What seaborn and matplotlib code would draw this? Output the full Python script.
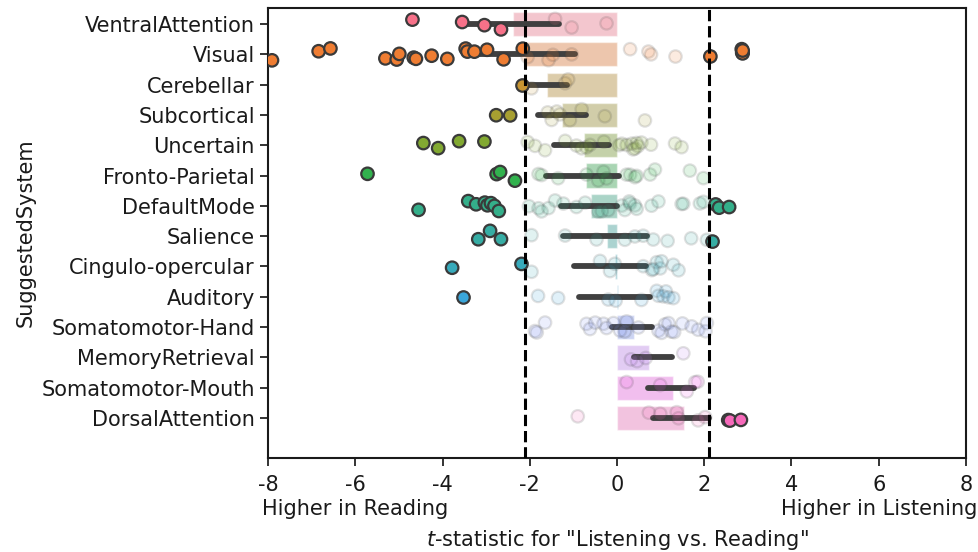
import numpy as np
import pandas as pd
import matplotlib
matplotlib.use("Agg")
import matplotlib.pyplot as plt
import seaborn as sns
from matplotlib.transforms import blended_transform_factory

# t-statistics ("Listening vs. Reading") per region, grouped by suggested system
ventral_attention = [-4.69, -3.55, -3.04, -2.66, -1.42, -1.04, -0.24]
visual = [-7.91, -6.84, -6.57, -5.31, -5.05, -4.99, -4.66, -4.61, -4.25, -3.89,
          -3.47, -3.43, -3.27, -2.98, -2.60, -2.16, 2.14, 2.86, 2.87, 2.88, 2.88,
          -2.05, -1.57, -1.47, -1.04, 0.30, 0.72, 0.78, 1.34]
cerebellar = [-2.17, -1.96, -1.19, -1.12]
subcortical = [-2.77, -2.45, -1.59, -1.50, -1.38, -1.31, -1.08, -0.81, -0.28, 0.64]
uncertain = [-4.44, -4.10, -3.62, -3.04, -2.05, -1.88, -1.65, -1.19, -0.93, -0.81,
             -0.70, -0.62, -0.30, 0.05, 0.11, 0.22, 0.34, 0.37, 0.41, 0.45, 0.48,
             0.56, 0.78, 1.33, 1.48]
fronto_parietal = [-5.72, -2.76, -2.68, -2.34, -1.80, -1.73, -1.35, -0.70, -0.43,
                   -0.31, -0.24, 0.22, 0.30, 0.41, 0.45, 0.76, 0.87, 1.67, 1.98]
default_mode = [-4.55, -3.41, -3.23, -3.03, -2.97, -2.89, -2.81, -2.71, 2.26, 2.34,
                2.57, -2.02, -1.80, -1.73, -1.57, -1.42, -1.23, -0.93, -0.73, -0.43,
                -0.35, -0.20, 0.11, 0.18, 0.28, 0.30, 0.41, 0.45, 0.79, 0.95, 1.48,
                1.52, 1.90, 1.98]
salience = [-3.18, -2.91, -2.66, 2.19, -1.96, -1.19, -0.47, 0.18, 0.41, 0.60, 0.83,
            1.16, 1.70, 2.06]
cingulo_opercular = [-3.78, -2.19, -1.96, -0.39, -0.16, -0.05, 0.60, 0.80, 0.83,
                     0.91, 0.99, 1.02, 1.29, 1.41]
auditory = [-3.53, -1.81, -1.35, -0.20, -0.03, 0.56, 0.91, 0.95, 1.06, 1.12, 1.18, 1.29]
somatomotor_hand = [-1.88, -1.84, -1.65, -0.70, -0.62, -0.50, -0.31, -0.24, -0.08,
                    0.07, 0.18, 0.22, 0.49, 0.95, 1.02, 1.10, 1.18, 1.25, 1.31, 1.50,
                    1.71, 1.86, 2.03, 2.06]
memory_retrieval = [0.32, 0.46, 0.66, 1.52]
somatomotor_mouth = [0.22, 0.99, 1.60, 1.79, 1.85]
dorsal_attention = [-0.90, 0.73, 0.99, 1.37, 1.41, 1.86, 2.02, 2.55, 2.59, 2.84]

systems = ["VentralAttention", "Visual", "Cerebellar", "Subcortical", "Uncertain",
           "Fronto-Parietal", "DefaultMode", "Salience", "Cingulo-opercular",
           "Auditory", "Somatomotor-Hand", "MemoryRetrieval", "Somatomotor-Mouth",
           "DorsalAttention"]
system_values = [ventral_attention, visual, cerebellar, subcortical, uncertain,
                 fronto_parietal, default_mode, salience, cingulo_opercular,
                 auditory, somatomotor_hand, memory_retrieval, somatomotor_mouth,
                 dorsal_attention]

t_crit = 2.1
x_ticks = [-8, -6, -4, -2, 0, 2, 4, 6, 8]

df = pd.DataFrame({
    "SuggestedSystem": np.repeat(systems, [len(v) for v in system_values]),
    "t": np.concatenate(system_values),
})
significant = df[df["t"].abs() > t_crit]
non_significant = df[df["t"].abs() <= t_crit]

sns.set_style("ticks")
plt.rcParams["font.family"] = ["DejaVu Sans"]
plt.rcParams["axes.unicode_minus"] = False
plt.rcParams["text.color"] = "#1a1a1a"
plt.rcParams["axes.labelcolor"] = "#1a1a1a"
plt.rcParams["xtick.color"] = "#1a1a1a"
plt.rcParams["ytick.color"] = "#1a1a1a"
plt.rcParams["axes.edgecolor"] = "#1a1a1a"

pal = sns.husl_palette(len(systems))
fs = 15

fig, ax = plt.subplots(figsize=(9.79, 5.52), dpi=100)
fig.subplots_adjust(left=0.2738, right=0.9867, top=0.9855, bottom=0.1703)

sns.barplot(data=df, x="t", y="SuggestedSystem", order=systems,
            hue="SuggestedSystem", hue_order=systems, palette=pal,
            alpha=0.45, errorbar=("ci", 95), n_boot=1000, seed=3,
            err_kws={"color": "#404040", "linewidth": 4.2},
            legend=False, ax=ax)

np.random.seed(7)
sns.stripplot(data=non_significant, x="t", y="SuggestedSystem", order=systems,
              hue="SuggestedSystem", hue_order=systems, palette=pal,
              size=9, linewidth=1.6, edgecolor="#3a3a3a", alpha=0.15,
              jitter=0.2, legend=False, ax=ax, zorder=3)
sns.stripplot(data=significant, x="t", y="SuggestedSystem", order=systems,
              hue="SuggestedSystem", hue_order=systems, palette=pal,
              size=9, linewidth=1.6, edgecolor="#3a3a3a", alpha=1.0,
              jitter=0.2, legend=False, ax=ax, zorder=4)

for xc in (-t_crit, t_crit):
    ax.axvline(xc, color="black", linestyle="--", linewidth=2.2, zorder=5)

ax.set_xlim(-8, 8)
ax.set_xticks(x_ticks)
ax.set_xticklabels([str(v) for v in x_ticks])
ax.set_ylim(14.32, -0.53)
ax.tick_params(axis="both", labelsize=fs, length=6, width=1.25)
ax.tick_params(axis="x", pad=6)
for side in ("top", "right", "left", "bottom"):
    ax.spines[side].set_visible(True)
    ax.spines[side].set_linewidth(1.5)

ax.set_ylabel("SuggestedSystem", fontsize=fs)
ax.set_xlabel(r'$t$-statistic for "Listening vs. Reading"', fontsize=fs, labelpad=24)

trans = blended_transform_factory(ax.transData, ax.transAxes)
ax.text(-6, -0.113, "Higher in Reading", transform=trans, ha="center", va="center",
        fontsize=fs)
ax.text(6, -0.113, "Higher in Listening", transform=trans, ha="center", va="center",
        fontsize=fs)

fig.savefig("out.png", dpi=100)
